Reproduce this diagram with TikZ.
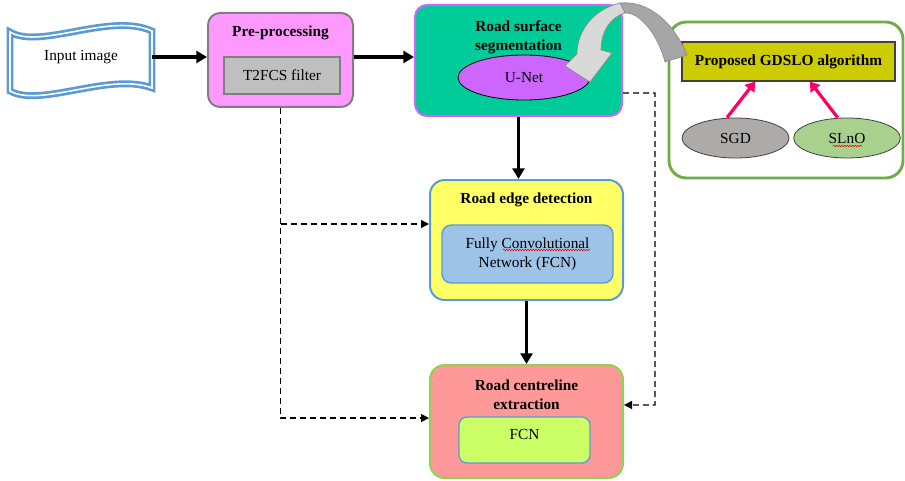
\documentclass[tikz,border=0pt]{standalone}
\usepackage{fontspec}
\setmainfont{Liberation Serif}
\usetikzlibrary{arrows.meta,shapes.geometric,decorations.pathmorphing}
\definecolor{prefill}{HTML}{FF99FF}
\definecolor{boxgray}{HTML}{7F7F7F}
\definecolor{filtfill}{HTML}{BFBFBF}
\definecolor{segfill}{HTML}{00CC99}
\definecolor{violet}{HTML}{CC66FF}
\definecolor{edgefill}{HTML}{FFFF66}
\definecolor{blueline}{HTML}{5B9BD5}
\definecolor{fcnblue}{HTML}{9DC3E6}
\definecolor{centfill}{HTML}{FF9999}
\definecolor{greenline}{HTML}{92D050}
\definecolor{limefill}{HTML}{CCFF66}
\definecolor{olivefill}{HTML}{CCCC00}
\definecolor{outergreen}{HTML}{70AD47}
\definecolor{sgdfill}{HTML}{AEAAAA}
\definecolor{slnofill}{HTML}{A9D18E}
\definecolor{pinkline}{HTML}{FF0066}
\definecolor{darkline}{HTML}{404040}

\begin{document}
\begin{tikzpicture}[x=0.75pt,y=-0.75pt,font=\fontsize{11.5}{14}\selectfont,
  box/.style={draw,rounded corners=9pt,line width=1.5pt},
  inbox/.style={draw,line width=1pt,align=center},
  title/.style={font=\fontsize{11.5}{14}\selectfont\bfseries,align=center},
  flow/.style={line width=2.6pt,-{Triangle[length=8pt,width=9pt]}},
  dashline/.style={line width=1pt,dash pattern=on 4.5pt off 3pt,-{Triangle[length=6pt,width=6pt]}},
  pinkarrow/.style={draw=pinkline,line width=2.4pt,-{Triangle[length=7pt,width=9pt]}}]
\useasboundingbox (0,0) rectangle (905,481);

% input banner
\draw[blueline,line width=2pt,double=white,double distance=1.2pt] (10,32) .. controls (40,50) and (110,12) .. (152,31) -- (152,88) .. controls (110,72) and (40,108) .. (10,91) -- cycle;
\node[minimum width=106.5pt,minimum height=42pt] (input) at (81,57) {Input image};

% pre-processing
\node[box,draw=boxgray,fill=prefill,minimum width=108.75pt,minimum height=70.5pt] (pre) at (280.5,60) {};
\node[title] (pretitle) at (280.5,33) {Pre-processing};
\node[inbox,draw=boxgray,fill=filtfill,minimum width=87pt,minimum height=27.75pt] (filt) at (282,75.5) {T2FCS filter};

% road surface segmentation
\node[box,draw=violet,fill=segfill,minimum width=155.25pt,minimum height=83.25pt] (surf) at (518.5,60.5) {};
\node[title] (surftitle) at (518.5,37) {Road surface\\segmentation};
\node[ellipse,draw,line width=0.6pt,fill=violet,minimum width=99pt,minimum height=33.75pt,inner sep=0pt] (unet) at (524,77.5) {U-Net};

% road edge detection
\node[box,draw=blueline,rounded corners=11pt,fill=edgefill,minimum width=144.75pt,minimum height=90pt] (edge) at (526.5,240) {};
\node[title] (edgetitle) at (526.5,200) {Road edge detection};
\node[inbox,draw=blueline,rounded corners=7pt,fill=fcnblue,minimum width=128.25pt,minimum height=43.5pt] (fcnA) at (527.5,254) {Fully Convolutional\\Network (FCN)};

% road centreline extraction
\node[box,draw=greenline,rounded corners=11pt,fill=centfill,minimum width=144.75pt,minimum height=84.75pt] (cent) at (526.5,421.5) {};
\node[title] (centtitle) at (526.5,394.5) {Road centreline\\extraction};
\node[inbox,draw=blueline,rounded corners=6pt,fill=limefill,minimum width=98.25pt,minimum height=34.5pt] (fcnB) at (524.5,440) {};
\node (fcnBtext) at (524.5,434) {FCN};

% optimiser
\node[draw=outergreen,line width=2.2pt,rounded corners=13pt,minimum width=175.5pt,minimum height=117pt] (opt) at (786,100) {};
\node[draw=darkline,line width=0.8pt,fill=olivefill,minimum width=159.75pt,minimum height=29.25pt,font=\fontsize{11.5}{14}\selectfont\bfseries] (gdslo) at (788.5,61.5) {Proposed GDSLO algorithm};
\node[ellipse,draw=darkline,line width=0.6pt,fill=sgdfill,minimum width=80.25pt,minimum height=30pt,inner sep=0pt] (sgd) at (735.5,138) {SGD};
\node[ellipse,draw=darkline,line width=0.6pt,fill=slnofill,minimum width=80pt,minimum height=30pt,inner sep=0pt] (slno) at (847,138) {SLnO};
\draw[red,line width=0.4pt,decorate,decoration={snake,amplitude=0.6pt,segment length=2pt}] (833,146) -- (862,146);
\draw[red,line width=0.4pt,decorate,decoration={snake,amplitude=0.6pt,segment length=2pt}] (503,250) -- (590,250);

% curved arrow to U-Net
\draw[fill=black!35,draw=black!45,line width=0.5pt] (620,3) .. controls (650,0) and (675,25) .. (687,55) -- (665,62) .. controls (658,35) and (640,12) .. (625,13) -- cycle;
\draw[fill=black!15,draw=black!45,line width=0.5pt] (620,3) .. controls (592,10) and (577,32) .. (577,54) -- (565,66) -- (590,82) -- (612,53) -- (601,50) .. controls (601,32) and (610,17) .. (625,13) -- cycle;

% connectors
\draw[flow] (input.east) -- (pre.west |- input.east);
\draw[flow] (pre.east |- input.east) -- (surf.west |- input.east);
\draw[flow] (surf.south) -- (surf.south |- edge.north);
\draw[flow] (edge.south) -- (cent.north);
\draw[pinkarrow] ([xshift=-6.4pt]sgd.north) -- ([xshift=-25pt]gdslo.south);
\draw[pinkarrow] ([xshift=-7pt]slno.north) -- ([xshift=16pt]gdslo.south);
\draw[dashline] (pre.south) |- ([yshift=2.6pt]cent.west);
\draw[dashline] (pre.south |- 0,224) -- ([yshift=12pt]edge.west);
\coordinate (bend) at (655,93);
\draw[dashline] ([yshift=-24.4pt]surf.east) -- (bend) |- ([yshift=12.4pt]cent.east);
\end{tikzpicture}
\end{document}
